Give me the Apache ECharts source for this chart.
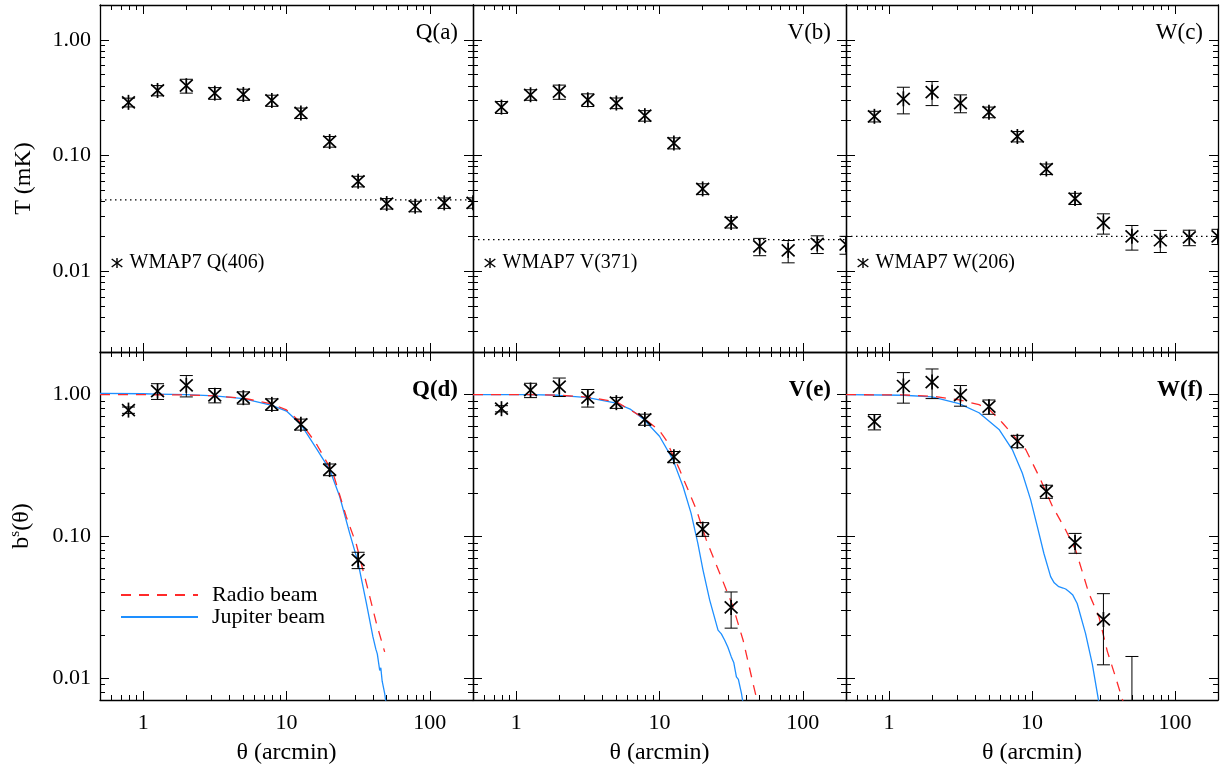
<!DOCTYPE html>
<html>
<head>
<meta charset="utf-8">
<script src="https://cdn.jsdelivr.net/npm/echarts@6/dist/echarts.min.js"></script>
<style>
  html, body { margin: 0; background: #fff; }
  #chart { width: 1222px; height: 768px; }
</style>
</head>
<body>
<div id="chart"></div>
<script>
// angular bins (arcmin)
const theta = [0.79, 1.26, 2.0, 3.16, 5.0, 7.9, 12.6, 20, 31.6, 50, 79, 126, 200]

// top row: stacked source profiles T (mK) and errors
const tempQ = [0.288, 0.365, 0.401, 0.346, 0.337, 0.299, 0.233, 0.132, 0.0598, 0.0384, 0.0364, 0.0389, 0.039]
const errTQ = [0.025, 0.037, 0.055, 0.04, 0.037, 0.033, 0.024, 0.014, 0.0063, 0.004, 0.0038, 0.004, 0.004]
const tempV = [0.262, 0.335, 0.356, 0.303, 0.284, 0.221, 0.128, 0.0514, 0.0264, 0.0164, 0.0151, 0.0172, 0.017]
const errTV = [0.031, 0.035, 0.05, 0.038, 0.03, 0.023, 0.014, 0.0055, 0.0028, 0.0028, 0.0033, 0.003, 0.003]
const tempW = [0.218, 0.309, 0.353, 0.284, 0.237, 0.146, 0.0764, 0.0424, 0.0261, 0.02, 0.0185, 0.0196, 0.02]
const errTW = [0.023, 0.08, 0.083, 0.05, 0.025, 0.015, 0.008, 0.0047, 0.0052, 0.0048, 0.004, 0.003, 0.003]
const noiseLevel = [0.0413, 0.0187, 0.02]

// bottom row: normalised profiles b^s(theta)
const beamQ = [0.778, 1.06, 1.164, 0.99, 0.952, 0.854, 0.617, 0.296, 0.0682]
const errBQ = [0.04, 0.135, 0.2, 0.115, 0.095, 0.08, 0.055, 0.028, 0.009]
const beamV = [0.796, 1.078, 1.14, 0.952, 0.878, 0.668, 0.364, 0.1125, 0.0315]
const errBV = [0.04, 0.125, 0.17, 0.135, 0.078, 0.06, 0.033, 0.0125, 0.009]
const beamW = [0.644, 1.151, 1.228, 0.994, 0.822, 0.469, 0.2075, 0.0904, 0.0259, 0.004]
const errBW = [0.08, 0.28, 0.29, 0.165, 0.095, 0.047, 0.022, 0.0145, 0.0135, 0.0102]

// beam curves [theta, b]
const radioQ = [[0.5, 1.0], [1, 1.0], [2, 0.995], [3.16, 0.98], [5, 0.945], [7.9, 0.86], [10, 0.78], [12.6, 0.636], [16.1, 0.452], [21.1, 0.28], [26.1, 0.138], [30.7, 0.088], [36.1, 0.0466], [42.4, 0.0243], [48.4, 0.0153]]
const jupQ = [[0.5, 1.02], [1, 1.015], [1.26, 1.01], [2, 1.0], [3.16, 0.98], [5, 0.937], [7.9, 0.84], [10, 0.766], [12.6, 0.616], [16.1, 0.42], [20, 0.296], [23.5, 0.191], [27.6, 0.105], [31.5, 0.066], [36.1, 0.0336], [40.1, 0.0195], [42, 0.016], [43, 0.0148], [44.7, 0.0113], [45.5, 0.0118], [46.5, 0.0095], [47.5, 0.0098], [48.4, 0.0078], [49.5, 0.0066]]
const radioV = [[0.5, 1.0], [1.26, 1.0], [2, 0.99], [3.16, 0.96], [5, 0.89], [7.5, 0.7], [9.95, 0.56], [11.1, 0.48], [13.8, 0.296], [18.1, 0.154], [21.2, 0.0944], [26.3, 0.0549], [32.6, 0.0318], [38.3, 0.0185], [45, 0.0091], [47.4, 0.0073], [48.5, 0.0066]]
const jupV = [[0.5, 1.0], [1.26, 1.0], [2, 0.99], [3.16, 0.952], [5, 0.87], [6.3, 0.787], [7.64, 0.68], [10, 0.509], [12.4, 0.348], [14.6, 0.225], [16.6, 0.146], [18.5, 0.0895], [20.1, 0.058], [22.4, 0.0355], [25.6, 0.0218], [27, 0.0205], [28.5, 0.0185], [30, 0.0165], [31.7, 0.0141], [33, 0.0128], [34.4, 0.0102], [35.5, 0.0098], [37.3, 0.0078], [38.3, 0.0066]]
const radioW = [[0.5, 1.0], [1.26, 0.995], [2, 0.975], [3.09, 0.92], [4.26, 0.85], [5, 0.79], [6.2, 0.634], [9.04, 0.41], [11.2, 0.265], [13.9, 0.163], [17.2, 0.111], [20.2, 0.08], [25, 0.0396], [29.4, 0.027], [33.6, 0.0155], [38, 0.0105], [43, 0.007], [44, 0.0065]]
const jupW = [[0.5, 1.0], [1.26, 0.99], [2, 0.965], [3.09, 0.865], [4.26, 0.745], [5.88, 0.568], [7.28, 0.41], [8.55, 0.28], [9.79, 0.181], [10.9, 0.117], [12.1, 0.076], [13.5, 0.052], [14.3, 0.047], [15.4, 0.0441], [16.5, 0.0432], [17.2, 0.0425], [18.2, 0.0407], [19.3, 0.0385], [20.7, 0.0336], [23.7, 0.0206], [26.4, 0.0126], [29.1, 0.0071], [29.6, 0.0062]]

// axis ticks
const xRange = [0.5, 200]
const xMajor = [1, 10, 100]
const xMinor = [0.6, 0.7, 0.8, 0.9, 2, 3, 4, 5, 6, 7, 8, 9, 20, 30, 40, 50, 60, 70, 80, 90]
const yRangeTop = [0.002, 2]
const yRangeBot = [0.007, 2]
const yMajor = [0.01, 0.1, 1]
const yMinorTop = [0.002, 0.003, 0.004, 0.005, 0.006, 0.007, 0.008, 0.009, 0.02, 0.03, 0.04, 0.05, 0.06, 0.07, 0.08, 0.09, 0.2, 0.3, 0.4, 0.5, 0.6, 0.7, 0.8, 0.9]
const yMinorBot = [0.008, 0.009, 0.02, 0.03, 0.04, 0.05, 0.06, 0.07, 0.08, 0.09, 0.2, 0.3, 0.4, 0.5, 0.6, 0.7, 0.8, 0.9]

const panelNames = ['Q(a)', 'V(b)', 'W(c)', 'Q(d)', 'V(e)', 'W(f)']
const sampleNames = ['WMAP7 Q(406)', 'WMAP7 V(371)', 'WMAP7 W(206)']

const FONT = "'Liberation Serif', 'DejaVu Serif', serif"
const RED = '#ff2a2a'
const BLUE = '#1e8fff'

const cells = [
  { left: 100, top: 5, width: 373, height: 347 },
  { left: 473, top: 5, width: 373, height: 347 },
  { left: 846, top: 5, width: 372, height: 347 },
  { left: 100, top: 352, width: 373, height: 348 },
  { left: 473, top: 352, width: 373, height: 348 },
  { left: 846, top: 352, width: 372, height: 348 }
]

function withErr(vals, errs) {
  return vals.map((v, i) => [theta[i], v, Math.max(v - errs[i], 1e-4), v + errs[i]])
}

function seg(x1, y1, x2, y2, w) {
  return { type: 'line', shape: { x1, y1, x2, y2 }, style: { stroke: '#000', lineWidth: w } }
}

// asterisk with error bar
function renderPoint(params, api) {
  const x = api.value(0)
  const c = api.coord([x, api.value(1)])
  const lo = api.coord([x, api.value(2)])
  const hi = api.coord([x, api.value(3)])
  const cx = c[0]
  const cy = c[1]
  return {
    type: 'group',
    children: [
      seg(cx, hi[1], cx, lo[1], 1),
      seg(cx - 6.5, hi[1], cx + 6.5, hi[1], 1),
      seg(cx - 6.5, lo[1], cx + 6.5, lo[1], 1),
      seg(cx, cy - 7.5, cx, cy + 7.5, 1.7),
      seg(cx - 6.4, cy - 6, cx + 6.4, cy + 6, 1.7),
      seg(cx - 6.4, cy + 6, cx + 6.4, cy - 6, 1.7)
    ]
  }
}

const lineBlack = { color: '#000', width: 1.3 }
const tickBlack = { color: '#000', width: 1 }
const labelStyle = { fontSize: 22, fontFamily: FONT, color: '#000' }
const nameStyle = { fontSize: 24, fontFamily: FONT, color: '#000' }

const xAxis = []
const yAxis = []
cells.forEach((c, g) => {
  const bottomRow = g >= 3
  const leftCol = g % 3 === 0
  const xb = {
    type: 'log', logBase: 10, gridIndex: g, min: xRange[0], max: xRange[1],
    splitLine: { show: false }, axisLabel: { show: false },
    axisLine: { show: false, onZero: false }, axisTick: { show: false }
  }
  xAxis.push({
    ...xb, position: 'bottom',
    axisLine: { show: true, onZero: false, lineStyle: lineBlack },
    axisTick: { show: true, inside: true, length: 9, customValues: xMajor, lineStyle: tickBlack },
    axisLabel: bottomRow
      ? { show: true, customValues: xMajor, margin: 12, ...labelStyle, formatter: v => String(v) }
      : { show: false },
    name: bottomRow ? 'θ (arcmin)' : '',
    nameLocation: 'middle', nameGap: 41,
    nameTextStyle: nameStyle
  })
  xAxis.push({ ...xb, position: 'bottom',
    axisTick: { show: true, inside: true, length: 5, customValues: xMinor, lineStyle: tickBlack } })
  xAxis.push({ ...xb, position: 'top',
    axisLine: { show: true, onZero: false, lineStyle: lineBlack },
    axisTick: { show: true, inside: true, length: 9, customValues: xMajor, lineStyle: tickBlack } })
  xAxis.push({ ...xb, position: 'top',
    axisTick: { show: true, inside: true, length: 5, customValues: xMinor, lineStyle: tickBlack } })

  const yr = bottomRow ? yRangeBot : yRangeTop
  const yb = {
    type: 'log', logBase: 10, gridIndex: g, min: yr[0], max: yr[1],
    splitLine: { show: false }, axisLabel: { show: false },
    axisLine: { show: false, onZero: false }, axisTick: { show: false }
  }
  const minor = bottomRow ? yMinorBot : yMinorTop
  yAxis.push({
    ...yb, position: 'left',
    axisLine: { show: true, onZero: false, lineStyle: lineBlack },
    axisTick: { show: true, inside: true, length: 9, customValues: yMajor, lineStyle: tickBlack },
    axisLabel: leftCol
      ? { show: true, customValues: yMajor, margin: 9, ...labelStyle, formatter: v => v.toFixed(2) }
      : { show: false },
    name: leftCol ? (bottomRow ? '{b|b}{s|s}{b|(θ)}' : 'T (mK)') : '',
    nameLocation: 'middle', nameGap: 64,
    nameTextStyle: {
      ...nameStyle,
      rich: {
        b: { fontSize: 24, fontFamily: FONT, color: '#000', lineHeight: 28 },
        s: { fontSize: 15, fontFamily: FONT, color: '#000', lineHeight: 28, verticalAlign: 'top' }
      }
    }
  })
  yAxis.push({ ...yb, position: 'left',
    axisTick: { show: true, inside: true, length: 5, customValues: minor, lineStyle: tickBlack } })
  yAxis.push({ ...yb, position: 'right',
    axisLine: { show: true, onZero: false, lineStyle: lineBlack },
    axisTick: { show: true, inside: true, length: 9, customValues: yMajor, lineStyle: tickBlack } })
  yAxis.push({ ...yb, position: 'right',
    axisTick: { show: true, inside: true, length: 5, customValues: minor, lineStyle: tickBlack } })
})

const topData = [withErr(tempQ, errTQ), withErr(tempV, errTV), withErr(tempW, errTW)]
const botData = [withErr(beamQ, errBQ), withErr(beamV, errBV), withErr(beamW, errBW)]
const radio = [radioQ, radioV, radioW]
const jupiter = [jupQ, jupV, jupW]

const series = []
for (let i = 0; i < 3; i++) {
  series.push({
    type: 'line', xAxisIndex: 4 * i, yAxisIndex: 4 * i, symbol: 'none', silent: true,
    data: [[xRange[0], noiseLevel[i]], [xRange[1], noiseLevel[i]]],
    lineStyle: { color: '#000', width: 1.2, type: [1.5, 3.5] }, z: 2
  })
  series.push({
    type: 'custom', name: sampleNames[i], xAxisIndex: 4 * i, yAxisIndex: 4 * i,
    renderItem: renderPoint, data: topData[i], encode: { x: 0, y: 1 }, clip: true, z: 5
  })
  const g = i + 3
  series.push({
    type: 'line', name: 'Jupiter beam', xAxisIndex: 4 * g, yAxisIndex: 4 * g, symbol: 'none',
    data: jupiter[i], itemStyle: { color: BLUE }, lineStyle: { color: BLUE, width: 1.3 }, z: 3
  })
  series.push({
    type: 'line', name: 'Radio beam', xAxisIndex: 4 * g, yAxisIndex: 4 * g, symbol: 'none',
    data: radio[i], itemStyle: { color: RED }, lineStyle: { color: RED, width: 1.3, type: [10, 8] }, z: 4
  })
  series.push({
    type: 'custom', xAxisIndex: 4 * g, yAxisIndex: 4 * g,
    renderItem: renderPoint, data: botData[i], encode: { x: 0, y: 1 }, clip: true, z: 5
  })
}

const graphic = []
cells.forEach((c, g) => {
  const bottomRow = g >= 3
  graphic.push({
    type: 'text', silent: true,
    x: c.left + c.width - 15, y: bottomRow ? 390 : 33,
    style: {
      text: panelNames[g], fill: '#000',
      font: (bottomRow ? 'bold ' : '') + '23px ' + FONT,
      textAlign: 'right', textVerticalAlign: 'middle', align: 'right', verticalAlign: 'middle'
    }
  })
  if (!bottomRow) {
    graphic.push({
      type: 'group', x: c.left + 17, y: 263, silent: true,
      children: [seg(0, -5, 0, 5, 1.4), seg(-5.3, -4, 5.3, 4, 1.4), seg(-5.3, 4, 5.3, -4, 1.4)]
    })
    graphic.push({
      type: 'text', silent: true, x: c.left + 29.5, y: 263,
      style: {
        text: sampleNames[g], fill: '#000', font: '20px ' + FONT,
        textAlign: 'left', textVerticalAlign: 'middle', align: 'left', verticalAlign: 'middle'
      }
    })
  }
})

const chart = echarts.init(document.getElementById('chart'))
chart.setOption({
  animation: false,
  backgroundColor: '#fff',
  textStyle: { fontFamily: FONT },
  grid: cells.map(c => ({ ...c, containLabel: false, outerBoundsMode: 'none', show: false })),
  xAxis,
  yAxis,
  legend: {
    data: ['Radio beam', 'Jupiter beam'],
    orient: 'vertical', left: 120, top: 584,
    itemWidth: 77, itemHeight: 12, itemGap: 0, padding: 0,
    selectedMode: false,
    itemStyle: { color: 'rgba(0,0,0,0)', borderWidth: 0, opacity: 0 },
    textStyle: { fontSize: 22, fontFamily: FONT, color: '#000', padding: [0, 0, 0, 9] }
  },
  series,
  graphic
})
</script>
</body>
</html>
